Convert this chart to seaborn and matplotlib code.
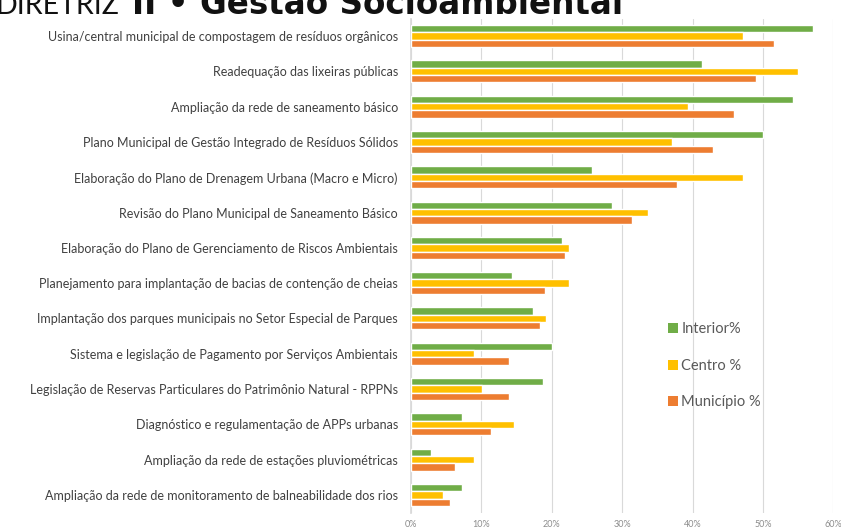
import matplotlib
matplotlib.use("Agg")
import matplotlib.pyplot as plt
from matplotlib.patches import Patch
from matplotlib.ticker import FuncFormatter, MultipleLocator
import seaborn as sns
import pandas as pd

categories = [
    "Usina/central municipal de compostagem de resíduos orgânicos",
    "Readequação das lixeiras públicas",
    "Ampliação da rede de saneamento básico",
    "Plano Municipal de Gestão Integrado de Resíduos Sólidos",
    "Elaboração do Plano de Drenagem Urbana (Macro e Micro)",
    "Revisão do Plano Municipal de Saneamento Básico",
    "Elaboração do Plano de Gerenciamento de Riscos Ambientais",
    "Planejamento para implantação de bacias de contenção de cheias",
    "Implantação dos parques municipais no Setor Especial de Parques",
    "Sistema e legislação de Pagamento por Serviços Ambientais",
    "Legislação de Reservas Particulares do Patrimônio Natural - RPPNs",
    "Diagnóstico e regulamentação de APPs urbanas",
    "Ampliação da rede de estações pluviométricas",
    "Ampliação da rede de monitoramento de balneabilidade dos rios",
]
series = ["Interior%", "Centro %", "Município %"]
interior = [57.1, 41.4, 54.3, 50.0, 25.7, 28.6, 21.5, 14.4, 17.3, 20.0, 18.7, 7.3, 2.8, 7.3]
centro = [47.1, 55.0, 39.4, 37.1, 47.1, 33.7, 22.4, 22.4, 19.2, 9.0, 10.1, 14.7, 9.0, 4.5]
municipio = [51.6, 49.0, 45.9, 42.9, 37.8, 31.4, 21.9, 19.0, 18.3, 13.9, 13.9, 11.4, 6.3, 5.6]
title_light = "DIRETRIZ"
title_bold = "II • Gestão Socioambiental"

colors = ["#70AD47", "#FFC000", "#ED7D31"]

rows = []
for s, vals in zip(series, [interior, centro, municipio]):
    for c, v in zip(categories, vals):
        rows.append({"categoria": c, "serie": s, "valor": v / 100.0})
df = pd.DataFrame(rows)

sns.set_theme(style="white")
plt.rcParams["font.family"] = ["Lato", "DejaVu Sans"]

fig = plt.figure(figsize=(8.41, 5.31), dpi=100)
ax = fig.add_axes([411 / 841, 1 - 512.5 / 531, (833.3 - 411) / 841, (512.5 - 18.5) / 531])

sns.barplot(data=df, y="categoria", x="valor", hue="serie", order=categories,
            hue_order=series, palette=colors, orient="h", width=0.62,
            saturation=1, ax=ax, legend=False, zorder=3)

ax.set_xlim(0, 0.6)
ax.set_ylim(len(categories) - 0.5, -0.5)
ax.xaxis.set_major_locator(MultipleLocator(0.1))
ax.xaxis.set_major_formatter(FuncFormatter(lambda v, p: f"{int(round(v * 100))}%"))
ax.grid(axis="x", color="#D9D9D9", linewidth=0.8, zorder=0)
ax.set_axisbelow(True)
for sp in ["top", "right", "bottom"]:
    ax.spines[sp].set_visible(False)
ax.spines["left"].set_color("#D9D9D9")
ax.set_xlabel("")
ax.set_ylabel("")
ax.tick_params(axis="x", labelsize=6.5, labelcolor="#8C8C8C", length=0, pad=5.5)
ax.tick_params(axis="y", labelsize=9, labelcolor="#404040", length=0, pad=9.5)

handles = [Patch(facecolor=c, edgecolor="none") for c in colors]
fig.legend(handles, series, loc="upper left", bbox_to_anchor=(655 / 841, 1 - 309 / 531),
           frameon=False, fontsize=10.5, labelcolor="#595959", handlelength=0.7,
           handleheight=0.7, handletextpad=0.2, labelspacing=1.55)

fig.text(-0.006, 1 - 14 / 531, title_light, fontsize=20.5, color="#111111",
         fontweight="normal", va="baseline", ha="left", family=["Lato", "DejaVu Sans"])
fig.text(132 / 841, 1 - 14 / 531, title_bold, fontsize=23.5, color="#111111",
         fontweight="bold", va="baseline", ha="left", family=["DejaVu Sans"])

fig.savefig("out.png", dpi=100)
